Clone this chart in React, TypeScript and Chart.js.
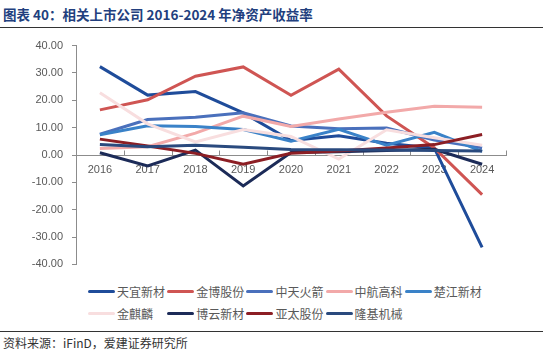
import React, { useEffect, useRef } from "react";
import { Chart, registerables } from "chart.js";

Chart.register(...registerables);

const years = ["2016", "2017", "2018", "2019", "2020", "2021", "2022", "2023", "2024"];

const tianyi = [32.3, 21.9, 23.2, 15.4, 5.3, 7.0, 4.3, 2.5, -33.8];
const jinbo = [16.5, 20.2, 28.8, 32.2, 21.8, 31.4, 14.3, 2.6, -14.5];
const zhongtian = [7.6, 13.0, 13.8, 15.4, 10.6, 9.6, 9.9, 5.5, 2.6];
const zhonghang = [2.4, 3.0, 8.0, 14.2, 10.4, 13.2, 15.6, 17.8, 17.5];
const chujiang = [7.4, 10.7, 10.4, 9.3, 5.0, 9.4, 3.6, 8.3, 1.3];
const jinqilin = [22.8, 11.4, 4.8, 9.3, 6.8, -1.5, 9.2, 6.3, 3.6];
const boyun = [0.8, -4.0, 1.8, -11.3, 0.9, 1.2, 1.6, 2.1, -3.4];
const yatai = [5.8, 3.3, 0.6, -3.4, 0.6, 1.5, 2.6, 3.8, 7.5];
const longji = [3.8, 3.0, 3.6, 2.8, 2.0, 1.9, 1.8, 1.6, 1.5];

const seriesNames = ["天宜新材", "金博股份", "中天火箭", "中航高科", "楚江新材", "金麒麟", "博云新材", "亚太股份", "隆基机械"];
const seriesValues = [tianyi, jinbo, zhongtian, zhonghang, chujiang, jinqilin, boyun, yatai, longji];
const seriesColors = ["#1F4C9A", "#CF5553", "#4A70BC", "#F2A9A9", "#3A82C8", "#F8DEDF", "#1C2B58", "#8C1E24", "#2A4A7E"];

const yMin = -40;
const yMax = 40;
const yStep = 10;

const titleText = "图表 40：相关上市公司 2016-2024 年净资产收益率";
const sourceText = "资料来源：iFinD，爱建证券研究所";

const axisGray = "#8C8C8C";
const labelGray = "#595959";

const innerTicks = {
  id: "innerTicks",
  beforeDatasetsDraw(chart: any) {
    const xs = chart.scales.x;
    const ys = chart.scales.y;
    const ctx = chart.ctx;
    const y0 = Math.round(ys.getPixelForValue(0)) + 0.5;
    const n = xs.getLabels().length;
    const half = (xs.getPixelForValue(1) - xs.getPixelForValue(0)) / 2;
    ctx.save();
    ctx.strokeStyle = axisGray;
    ctx.lineWidth = 1;
    ctx.beginPath();
    for (let i = 1; i <= n; i++) {
      const x = Math.round(xs.getPixelForValue(i - 1) + half) + 0.5;
      ctx.moveTo(x, y0);
      ctx.lineTo(x, y0 - 5);
    }
    ctx.stroke();
    ctx.restore();
  },
};

function ChartCanvas() {
  const ref = useRef<HTMLCanvasElement | null>(null);
  useEffect(() => {
    if (!ref.current) return;
    const n = seriesNames.length;
    const chart = new Chart(ref.current, {
      type: "line",
      data: {
        labels: years,
        datasets: seriesNames.map((name, i) => ({
          label: name,
          data: seriesValues[i],
          borderColor: seriesColors[i],
          backgroundColor: seriesColors[i],
          borderWidth: 3,
          pointRadius: 0,
          tension: 0,
          fill: false,
          order: n - i,
        })),
      },
      options: {
        animation: false,
        responsive: true,
        maintainAspectRatio: false,
        layout: { padding: { top: 14, right: 37, bottom: 14, left: 0 } },
        plugins: { legend: { display: false }, tooltip: { enabled: false }, title: { display: false } },
        scales: {
          x: {
            type: "category",
            offset: true,
            position: { y: 0 } as any,
            grid: { drawOnChartArea: false, drawTicks: false, color: axisGray },
            border: { color: axisGray, width: 1 },
            ticks: {
              padding: 8,
              color: labelGray,
              font: { family: "'Liberation Sans', Arial, sans-serif", size: 11 },
              maxRotation: 0,
              autoSkip: false,
            },
          },
          y: {
            min: yMin,
            max: yMax,
            grid: { drawOnChartArea: false, drawTicks: true, tickLength: 4, color: axisGray },
            border: { color: axisGray, width: 1 },
            ticks: {
              stepSize: yStep,
              padding: 9,
              color: labelGray,
              font: { family: "'Liberation Sans', Arial, sans-serif", size: 11 },
              callback: (v: any) => Number(v).toFixed(2),
            },
            afterFit: (scale: any) => {
              scale.width = 76;
            },
          },
        },
      },
      plugins: [innerTicks],
    });
    return () => chart.destroy();
  }, []);
  return <canvas ref={ref} />;
}

export default function App() {
  const cjk = "'Noto Sans CJK SC', 'Noto Sans', sans-serif";
  return (
    <div style={{ position: "fixed", left: 0, top: 0, width: 543, height: 353, background: "#fff", overflow: "hidden" }}>
      <div
        style={{
          position: "absolute",
          left: 3,
          top: 4,
          fontFamily: cjk,
          fontWeight: 700,
          fontSize: 13.5,
          lineHeight: "20px",
          color: "#223F7E",
          whiteSpace: "nowrap",
        }}
      >
        {titleText}
      </div>
      <div style={{ position: "absolute", left: 0, top: 27, width: 543, height: 1, background: "#333" }} />
      <div style={{ position: "absolute", left: 0, top: 30, width: 543, height: 250 }}>
        <ChartCanvas />
      </div>
      {seriesNames.map((name, i) => {
        const row = i < 5 ? 0 : 1;
        const col = i < 5 ? i : i - 5;
        return (
          <div
            key={name}
            style={{
              position: "absolute",
              left: 88 + col * 79.2,
              top: (row === 0 ? 291 : 313) - 9,
              height: 18,
              display: "flex",
              alignItems: "center",
              fontFamily: cjk,
              fontSize: 12,
              color: labelGray,
              whiteSpace: "nowrap",
            }}
          >
            <span style={{ display: "inline-block", width: 27, height: 3, background: seriesColors[i], borderRadius: 1.5, marginRight: 2 }} />
            <span>{name}</span>
          </div>
        );
      })}
      <div style={{ position: "absolute", left: 0, top: 331, width: 543, height: 1, background: "#333" }} />
      <div
        style={{
          position: "absolute",
          left: 3,
          top: 334,
          fontFamily: cjk,
          fontSize: 12,
          lineHeight: "18px",
          color: "#333",
          whiteSpace: "nowrap",
        }}
      >
        {sourceText}
      </div>
    </div>
  );
}
